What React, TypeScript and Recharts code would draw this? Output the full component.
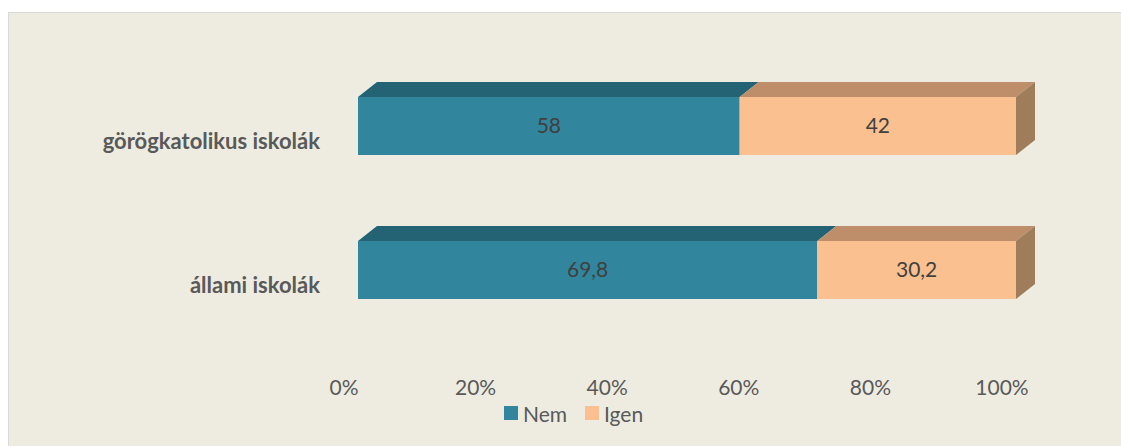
import React from "react";
import { Bar, BarChart, LabelList, Legend, XAxis, YAxis } from "recharts";

const categories = ["görögkatolikus iskolák", "állami iskolák"];
const nemValues = [58, 69.8];
const igenValues = [42, 30.2];
const xTicks = [0, 20, 40, 60, 80, 100];

const data = categories.map((name, i) => ({ name, nem: nemValues[i], igen: igenValues[i] }));

const FONT = "Lato, 'Open Sans', sans-serif";
const DEPTH_X = 19;
const DEPTH_Y = 15;

const NEM = { front: "#31859C", top: "#246374", side: "#1E5868" };
const IGEN = { front: "#FAC08F", top: "#BE8E6B", side: "#9F7C5A" };

function box3d(colors: typeof NEM, withSide: boolean) {
  return (props: any) => {
    const { x, y, width, height } = props;
    const top = `${x},${y} ${x + width},${y} ${x + width + DEPTH_X},${y - DEPTH_Y} ${x + DEPTH_X},${y - DEPTH_Y}`;
    const side = `${x + width},${y} ${x + width + DEPTH_X},${y - DEPTH_Y} ${x + width + DEPTH_X},${y + height - DEPTH_Y} ${x + width},${y + height}`;
    return (
      <g>
        <polygon points={top} fill={colors.top} />
        {withSide && <polygon points={side} fill={colors.side} />}
        <rect x={x} y={y} width={width} height={height} fill={colors.front} />
      </g>
    );
  };
}

const CategoryTick = (props: any) => {
  const { x, y, payload } = props;
  return (
    <text x={x - 36} y={y + 14} textAnchor="end" dominantBaseline="central" fontFamily={FONT} fontSize={22} fontWeight={700} fill="#595959">
      {payload.value}
    </text>
  );
};

const PercentTick = (props: any) => {
  const { x, y, payload } = props;
  return (
    <text x={x - 14} y={y + 42} textAnchor="middle" dominantBaseline="central" fontFamily={FONT} fontSize={21} fill="#595959">
      {payload.value}%
    </text>
  );
};

const LegendContent = () => (
  <div style={{ display: "flex", alignItems: "center", height: 22, paddingLeft: 495, fontFamily: FONT, fontSize: 21, color: "#595959" }}>
    <span style={{ width: 14, height: 14, background: NEM.front, marginRight: 5 }} />
    <span style={{ marginRight: 18 }}>Nem</span>
    <span style={{ width: 14, height: 14, background: IGEN.front, marginRight: 5 }} />
    <span>Igen</span>
  </div>
);

const fmt = (v: any) => String(v).replace(".", ",");

export default function App() {
  return (
    <div style={{ position: "absolute", top: 12, left: 8, width: 1112, height: 433, background: "#EEECE1", borderTop: "1px solid #D9D9D9", borderLeft: "1px solid #D9D9D9" }}>
      <BarChart width={1112} height={433} data={data} layout="vertical" barSize={58} margin={{ top: 41, right: 105, bottom: 0, left: 0 }}>
        <XAxis type="number" domain={[0, 100]} ticks={xTicks} axisLine={false} tickLine={false} tickSize={0} tick={<PercentTick />} height={60} interval={0} />
        <YAxis type="category" dataKey="name" width={349} axisLine={false} tickLine={false} tickSize={0} tick={<CategoryTick />} />
        <Legend content={<LegendContent />} wrapperStyle={{ left: 0, bottom: 0, width: 1112, height: 44 }} />
        <Bar dataKey="nem" name="Nem" stackId="a" fill={NEM.front} shape={box3d(NEM, false)} isAnimationActive={false}>
          <LabelList dataKey="nem" position="center" formatter={fmt} fill="#404040" fontFamily={FONT} fontSize={21} />
        </Bar>
        <Bar dataKey="igen" name="Igen" stackId="a" fill={IGEN.front} shape={box3d(IGEN, true)} isAnimationActive={false}>
          <LabelList dataKey="igen" position="center" formatter={fmt} fill="#404040" fontFamily={FONT} fontSize={21} />
        </Bar>
      </BarChart>
    </div>
  );
}
